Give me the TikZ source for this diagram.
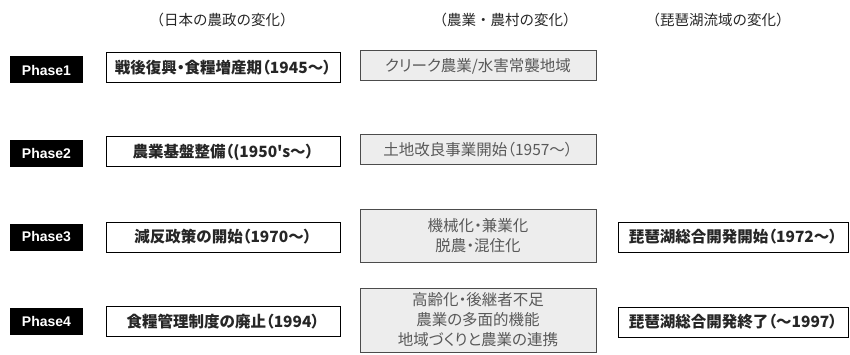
\documentclass[tikz,border=0pt]{standalone}
\usepackage{fontspec}
\setmainfont{Liberation Sans}
\newfontfamily\jp{Noto Sans CJK JP}
\newfontfamily\jpp[RawFeature=+palt]{Noto Sans CJK JP}
\tikzset{
  x=1pt,y=-1pt,
  phasebox/.style={fill=black,text=white,font=\fontsize{14}{16}\selectfont\bfseries,minimum width=73pt,minimum height=27pt,inner sep=0pt},
  policybox/.style={draw=black,line width=1pt,fill=white,font=\jpp\fontsize{15.5}{17}\selectfont\bfseries,minimum height=30pt,inner sep=0pt,text=black!85},
  farmbox/.style={draw=black!70,line width=1pt,fill=black!7,font=\jpp\fontsize{15.5}{20}\selectfont,text=black!65,inner sep=0pt,align=center},
  lakebox/.style={draw=black,line width=1pt,fill=white,font=\jpp\fontsize{15.5}{17}\selectfont\bfseries,minimum width=230pt,minimum height=30pt,inner sep=0pt,text=black!85},
  header/.style={font=\jp\fontsize{14.5}{17}\selectfont,text=black!85}
}
\begin{document}
\begin{tikzpicture}
\useasboundingbox (0,0) rectangle (850,355);
\node[header] (h1) at (222,20) {（日本の農政の変化）};
\node[header] (h2) at (505,20) {（農業・農村の変化）};
\node[header] (h3) at (718,20) {（琵琶湖流域の変化）};

\node[phasebox] (p1) at (46.5,70) {Phase1};
\node[phasebox] (p2) at (46.5,153.5) {Phase2};
\node[phasebox] (p3) at (46.5,237) {Phase3};
\node[phasebox] (p4) at (46.5,321.5) {Phase4};

\node[policybox,minimum width=234pt] (a1) at (223,68) {戦後復興・食糧増産期（1945〜）};
\node[policybox,minimum width=234pt] (a2) at (223,152) {農業基盤整備（(1950's〜）};
\node[policybox,minimum width=234pt] (a3) at (223,237) {減反政策の開始（1970〜）};
\node[policybox,minimum width=234pt] (a4) at (223,321.5) {食糧管理制度の廃止（1994）};

\node[farmbox,minimum width=236pt,minimum height=30pt] (b1) at (478,66) {クリーク農業/水害常襲地域};
\node[farmbox,minimum width=236pt,minimum height=30pt] (b2) at (478,150) {土地改良事業開始（1957〜）};
\node[farmbox,minimum width=236pt,minimum height=52pt] (b3) at (478,236) {機械化・兼業化\\脱農・混住化};
\node[farmbox,minimum width=236pt,minimum height=64pt] (b4) at (478,320) {高齢化・後継者不足\\農業の多面的機能\\地域づくりと農業の連携};

\node[lakebox] (c3) at (733,237) {琵琶湖総合開発開始（1972〜）};
\node[lakebox] (c4) at (733,322) {琵琶湖総合開発終了（〜1997）};
\end{tikzpicture}
\end{document}
